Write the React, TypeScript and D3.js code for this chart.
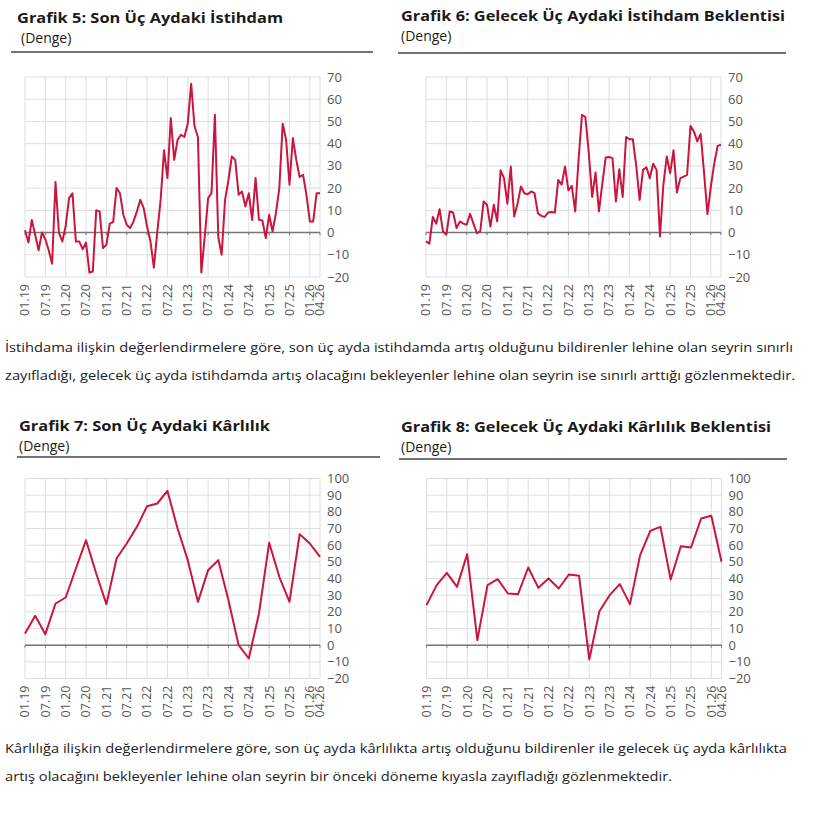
import React from "react";
import * as d3 from "d3";

// ---- Data ----
const xTickLabels = ["01.19","07.19","01.20","07.20","01.21","07.21","01.22","07.22","01.23","07.23","01.24","07.24","01.25","07.25","01.26","04.26"];

// Grafik 5: monthly, 01.19 .. 04.26
const employmentPast = [1,-4.5,5.7,-1,-8,0,-3,-8,-14,22.7,0,-4,3,15.5,17.7,-4,-4,-7.5,-4.5,-18,-17.5,10,9.5,-7,-5.5,4,4.7,20,17.7,8,3.5,2,5,9.5,14.7,11,2.7,-4,-15.8,0,14.7,37,24.5,51.5,32.7,41.7,44,43,49,67,47.7,43,-18,-2,15.5,17.7,53,-2,-10,14.7,23.7,34.2,32.7,17,18.5,11.7,17.7,5.7,24.5,5.7,5.4,-2.5,8,0.5,8.7,20,49,41.7,21.5,42.5,32.7,25,26,17,5,5,17.7,17.7];

// Grafik 6: monthly, 01.19 .. 04.26
const employmentExpect = [-4,-5,7,4,10.5,0.5,-1,9.5,9,2,5,4,3.5,8.4,4,-0.3,0.5,14,12.5,2.7,12.5,5,28,24.5,13,29.7,7.2,13,20.7,17.7,17.2,18.5,17.7,8.7,7.5,7,9,9.2,9,23.7,21.5,29.7,19,21,9.5,33,53,52,36,16,27,9.5,22,33.8,34,33.5,14,28.5,16,43,42,42,30,14.7,28.2,29.4,24.5,31,28.2,-1.8,21.5,34.2,26.7,37,18,24.5,25.2,26,48,45.5,41,44.4,27,8.3,20.7,31,39,39.5];

// Grafik 7: quarterly, 01.19 .. 04.26
const profitPast = [7,17.6,6.6,25,28.6,46,63,43,24.6,52,61,71,83.4,85,92.6,70,51,26,45,51,27,0,-8,19,61.4,41,26,66.6,61,53];

// Grafik 8: quarterly, 01.19 .. 04.26
const profitExpect = [24,36,43.4,35,54.6,3,36,39.6,31,30.6,46.6,34.4,40,34,42.4,41.6,-8.6,20.4,30,36.6,24.6,54,68.6,71,39.4,59.4,58.6,76,77.6,50];

const yTicksEmployment = [70,60,50,40,30,20,10,0,-10,-20];
const yTicksProfit = [100,90,80,70,60,50,40,30,20,10,0,-10,-20];

const titles = [
  "Grafik 5: Son Üç Aydaki İstihdam",
  "Grafik 6: Gelecek Üç Aydaki İstihdam Beklentisi",
  "Grafik 7: Son Üç Aydaki Kârlılık",
  "Grafik 8: Gelecek Üç Aydaki Kârlılık Beklentisi",
];
const subtitle = "(Denge)";

const para1 = [
  "İstihdama ilişkin değerlendirmelere göre, son üç ayda istihdamda artış olduğunu bildirenler lehine olan seyrin sınırlı",
  "zayıfladığı, gelecek üç ayda istihdamda artış olacağını bekleyenler lehine olan seyrin ise sınırlı arttığı gözlenmektedir.",
];
const para2 = [
  "Kârlılığa ilişkin değerlendirmelere göre, son üç ayda kârlılıkta artış olduğunu bildirenler ile gelecek üç ayda kârlılıkta",
  "artış olacağını bekleyenler lehine olan seyrin bir önceki döneme kıyasla zayıfladığı gözlenmektedir.",
];

// ---- helpers ----
const labelToMonth = (l: string) => {
  const [mm, yy] = l.split(".").map(Number);
  return (yy - 19) * 12 + (mm - 1);
};
const LINE = "#c9163f";
const GRID = "#dedede";
const TICKTXT = "#555";
const FONT = "'Open Sans', 'Noto Sans', sans-serif";

type ChartProps = {
  left: number; right: number; top: number; bottom: number;
  yDomain: [number, number]; yTicks: number[];
  values: number[]; step: number;
};

function Chart({ left, right, top, bottom, yDomain, yTicks, values, step }: ChartProps) {
  const x = d3.scaleLinear().domain([0, 87]).range([left, right]);
  const y = d3.scaleLinear().domain(yDomain).range([bottom, top]);
  const tickMonths = xTickLabels.map(labelToMonth);
  const line = d3.line<number>()
    .x((_, i) => x(i * step))
    .y((d) => y(d));
  return (
    <g>
      {yTicks.map((t) => (
        <line key={"h" + t} x1={left} x2={right} y1={y(t)} y2={y(t)} stroke={GRID} strokeWidth={1} />
      ))}
      {tickMonths.map((m, i) => (
        <line key={"v" + i} x1={x(m)} x2={x(m)} y1={top} y2={bottom} stroke={GRID} strokeWidth={1} />
      ))}
      <line x1={left} x2={right} y1={y(0)} y2={y(0)} stroke="#777" strokeWidth={1.5} />
      {tickMonths.map((m, i) => (
        <line key={"t" + i} x1={x(m)} x2={x(m)} y1={y(0)} y2={y(0) + 2.5} stroke="#777" strokeWidth={1} />
      ))}
      <path d={line(values) || ""} fill="none" stroke={LINE} strokeWidth={2} strokeLinejoin="round" />
      {yTicks.map((t) => (
        <text key={"yl" + t} x={right + 7} y={y(t)} dy="0.35em" fontSize={13} fill={TICKTXT} fontFamily={FONT}>
          {d3.format("")(t).replace("-", "\u2212")}
        </text>
      ))}
      {tickMonths.map((m, i) => (
        <text key={"xl" + i} transform={`translate(${x(m)},${bottom + 7}) rotate(-90)`} dy="0.35em"
          textAnchor="end" fontSize={12.5} fill={TICKTXT} fontFamily={FONT}>
          {xTickLabels[i]}
        </text>
      ))}
    </g>
  );
}

function Heading({ x, y, title, width, subX, ruleX1, ruleX2, ruleY }: any) {
  return (
    <g fontFamily={FONT}>
      <text x={x} y={y} fontSize={15} fontWeight={700} fill="#1a1a1a" textLength={width} lengthAdjust="spacingAndGlyphs">{title}</text>
      <text x={subX} y={y + 20} fontSize={14} fill="#1a1a1a">{subtitle}</text>
      <line x1={ruleX1} x2={ruleX2} y1={ruleY} y2={ruleY} stroke="#444" strokeWidth={1.6} />
    </g>
  );
}

export default function App() {
  return (
    <svg width={820} height={820} style={{ position: "absolute", left: 0, top: 0, background: "#fff" }}>
      <rect width={820} height={820} fill="#fff" />
      <Heading x={17} y={23} title={titles[0]} width={266} subX={21} ruleX1={11} ruleX2={373} ruleY={52} />
      <Heading x={401} y={21} title={titles[1]} width={384} subX={401} ruleX1={398} ruleX2={786} ruleY={53} />
      <Heading x={19} y={431} title={titles[2]} width={251} subX={19} ruleX1={17} ruleX2={380} ruleY={457} />
      <Heading x={401} y={432} title={titles[3]} width={370} subX={401} ruleX1={399} ruleX2={787} ruleY={459} />

      <Chart left={25} right={320} top={77} bottom={277} yDomain={[-20, 70]} yTicks={yTicksEmployment} values={employmentPast} step={1} />
      <Chart left={426} right={721} top={77} bottom={277} yDomain={[-20, 70]} yTicks={yTicksEmployment} values={employmentExpect} step={1} />
      <Chart left={25} right={320} top={478.5} bottom={678.5} yDomain={[-20, 100]} yTicks={yTicksProfit} values={profitPast} step={3} />
      <Chart left={426.5} right={721.5} top={478.5} bottom={678.5} yDomain={[-20, 100]} yTicks={yTicksProfit} values={profitExpect} step={3} />

      <g fontFamily={FONT} fontSize={13.5} fill="#222">
        <text x={5} y={352} textLength={788} lengthAdjust="spacingAndGlyphs">{para1[0]}</text>
        <text x={5} y={380} textLength={790} lengthAdjust="spacingAndGlyphs">{para1[1]}</text>
        <text x={5} y={753} textLength={782} lengthAdjust="spacingAndGlyphs">{para2[0]}</text>
        <text x={5} y={781} textLength={667} lengthAdjust="spacingAndGlyphs">{para2[1]}</text>
      </g>
    </svg>
  );
}
